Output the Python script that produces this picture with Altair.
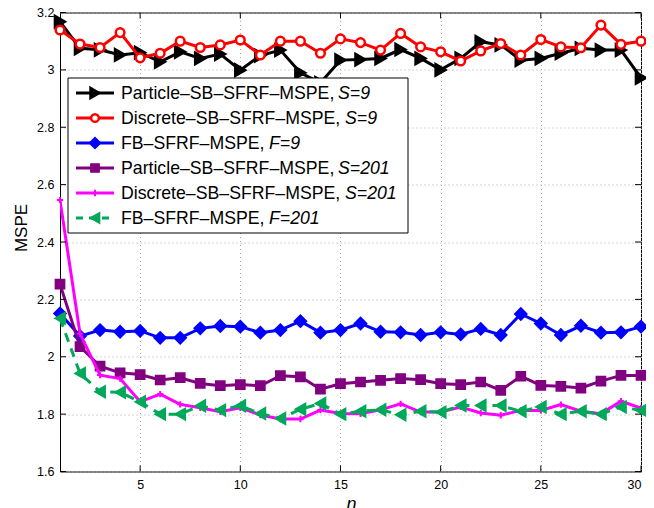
import altair as alt
import pandas as pd

# ---------------- data ----------------
n = list(range(1, 31))

particle_s9 = [3.168, 3.075, 3.070, 3.052, 3.060, 3.028, 3.063, 3.040, 3.055, 2.999,
               3.050, 3.069, 2.990, 2.955, 3.034, 3.036, 3.040, 3.071, 3.040, 3.000,
               3.040, 3.098, 3.087, 3.034, 3.040, 3.058, 3.075, 3.069, 3.069, 2.972]
discrete_s9 = [3.139, 3.090, 3.078, 3.130, 3.042, 3.058, 3.100, 3.078, 3.087, 3.104,
               3.052, 3.100, 3.100, 3.058, 3.108, 3.095, 3.069, 3.127, 3.080, 3.063,
               3.031, 3.066, 3.092, 3.052, 3.106, 3.080, 3.077, 3.156, 3.089, 3.100]
fb_f9 = [2.151, 2.072, 2.093, 2.087, 2.090, 2.066, 2.066, 2.099, 2.107, 2.105,
         2.084, 2.093, 2.124, 2.084, 2.093, 2.116, 2.087, 2.085, 2.076, 2.085,
         2.078, 2.097, 2.076, 2.149, 2.116, 2.076, 2.108, 2.084, 2.085, 2.105]
particle_s201 = [2.253, 2.035, 1.967, 1.944, 1.938, 1.919, 1.927, 1.907, 1.899, 1.903,
                 1.899, 1.934, 1.930, 1.887, 1.906, 1.912, 1.918, 1.924, 1.920, 1.906,
                 1.903, 1.912, 1.883, 1.932, 1.900, 1.897, 1.891, 1.915, 1.935, 1.935]
discrete_s201 = [2.546, 2.080, 1.936, 1.924, 1.843, 1.870, 1.834, 1.822, 1.808, 1.822,
                 1.797, 1.783, 1.783, 1.814, 1.802, 1.801, 1.815, 1.836, 1.807, 1.807,
                 1.825, 1.804, 1.796, 1.813, 1.813, 1.833, 1.810, 1.801, 1.845, 1.821]
fb_f201 = [2.134, 1.942, 1.878, 1.876, 1.843, 1.800, 1.800, 1.829, 1.814, 1.829,
           1.802, 1.785, 1.817, 1.837, 1.800, 1.810, 1.815, 1.798, 1.810, 1.807,
           1.830, 1.830, 1.830, 1.810, 1.825, 1.800, 1.810, 1.800, 1.825, 1.813]

label_main = ["Particle\u2013SB\u2013SFRF\u2013MSPE, ", "Discrete\u2013SB\u2013SFRF\u2013MSPE, ",
              "FB\u2013SFRF\u2013MSPE, ", "Particle\u2013SB\u2013SFRF\u2013MSPE, ",
              "Discrete\u2013SB\u2013SFRF\u2013MSPE, ", "FB\u2013SFRF\u2013MSPE, "]
label_ital = ["S=9", "S=9", "F=9", "S=201", "S=201", "F=201"]

x_ticks = [5, 10, 15, 20, 25, 30]
y_ticks = [1.6, 1.8, 2.0, 2.2, 2.4, 2.6, 2.8, 3.0, 3.2]

series_values = [particle_s9, discrete_s9, fb_f9, particle_s201, discrete_s201, fb_f201]

# ---------------- styles ----------------
W, H = 581, 459
FONT = "Liberation Sans"
styles = [
    dict(color="#000000", shape="triangle-right", size=150, fill="#000000", dash=None, sw=2),
    dict(color="#ff0000", shape="circle", size=75, fill="#ffffff", dash=None, sw=2.5),
    dict(color="#0000ff", shape="diamond", size=150, fill="#0000ff", dash=None, sw=1.5),
    dict(color="#800080", shape="square", size=85, fill="#800080", dash=None, sw=1.5),
    dict(color="#ff00ff", shape="M-1,0L1,0M0,-1L0,1", size=40, fill=None, dash=None, sw=2),
    dict(color="#00a85a", shape="triangle-left", size=140, fill="#00a85a", dash=[9, 7], sw=1.5),
]
ital_x = [278, 285, 209, 278, 285, 209]

x_scale = alt.Scale(domain=[1, 30], nice=False, zero=False)
y_scale = alt.Scale(domain=[1.6, 3.2], nice=False, zero=False)
x_axis = alt.Axis(values=x_ticks, title="n", grid=True, ticks=False, domain=False,
                  labelFontSize=12.5, labelPadding=7, labelFont=FONT, labelColor="#000",
                  titleFont=FONT, titleFontSize=18, titleFontStyle="italic", titleFontWeight="normal",
                  titleX=291, titleY=38, titleBaseline="alphabetic", titleColor="#000")
y_axis = alt.Axis(values=y_ticks, title="MSPE", grid=True, ticks=False, domain=False,
                  labelExpr="format(datum.value, '.1~f')",
                  labelFontSize=12.5, labelPadding=6, labelFont=FONT, labelColor="#000",
                  titleFont=FONT, titleFontSize=17, titleFontWeight="normal",
                  titleX=-38.5, titleY=215, titleAngle=270, titleAlign="center",
                  titleBaseline="middle", titleColor="#000")

layers = []
for vals, st in zip(series_values, styles):
    df = pd.DataFrame({"n": n, "value": vals})
    base = alt.Chart(df).encode(
        x=alt.X("n:Q", scale=x_scale, axis=x_axis),
        y=alt.Y("value:Q", scale=y_scale, axis=y_axis),
    )
    line_kw = dict(color=st["color"], strokeWidth=3, clip=True)
    if st["dash"]:
        line_kw["strokeDash"] = st["dash"]
    layers.append(base.mark_line(**line_kw))
    if st["fill"]:
        pt = base.mark_point(shape=st["shape"], size=st["size"], filled=True, fill=st["fill"],
                             stroke=st["color"], strokeWidth=st["sw"], opacity=1)
    else:
        pt = base.mark_point(shape=st["shape"], size=st["size"], filled=False,
                             stroke=st["color"], strokeWidth=st["sw"], opacity=1)
    layers.append(pt)

# inward tick marks (box style)
xt = pd.DataFrame({"n": x_ticks})
yt = pd.DataFrame({"value": y_ticks})
tick_style = dict(color="#000", strokeWidth=1)
xenc = alt.X("n:Q", scale=x_scale, axis=x_axis)
yenc = alt.Y("value:Q", scale=y_scale, axis=y_axis)
layers.append(alt.Chart(xt).mark_rule(**tick_style).encode(x=xenc, y=alt.value(H), y2=alt.value(H - 6)))
layers.append(alt.Chart(xt).mark_rule(**tick_style).encode(x=xenc, y=alt.value(0), y2=alt.value(6)))
layers.append(alt.Chart(yt).mark_rule(**tick_style).encode(y=yenc, x=alt.value(0), x2=alt.value(6)))
layers.append(alt.Chart(yt).mark_rule(**tick_style).encode(y=yenc, x=alt.value(W), x2=alt.value(W - 6)))

# legend
one = pd.DataFrame({"a": [0]})
layers.append(alt.Chart(one).mark_rect(fill="white", stroke="black", strokeWidth=1).encode(
    x=alt.value(8), x2=alt.value(348), y=alt.value(65.5), y2=alt.value(220.5)))
for i, st in enumerate(styles):
    ry = 80.5 + 25 * i
    rk = dict(color=st["color"], strokeWidth=3)
    if st["dash"]:
        rk["strokeDash"] = [7, 6]
    layers.append(alt.Chart(one).mark_rule(**rk).encode(
        x=alt.value(16), x2=alt.value(54), y=alt.value(ry)))
    if st["fill"]:
        pt = alt.Chart(one).mark_point(shape=st["shape"], size=st["size"] * 0.8, filled=True,
                                       fill=st["fill"], stroke=st["color"], strokeWidth=st["sw"], opacity=1)
    else:
        pt = alt.Chart(one).mark_point(shape=st["shape"], size=st["size"], filled=False,
                                       stroke=st["color"], strokeWidth=st["sw"], opacity=1)
    layers.append(pt.encode(x=alt.value(35), y=alt.value(ry)))
    layers.append(alt.Chart(one).mark_text(align="left", baseline="middle", font=FONT,
                                           fontSize=17.7, color="#000").encode(
        x=alt.value(61), y=alt.value(ry + 1), text=alt.value(label_main[i])))
    layers.append(alt.Chart(one).mark_text(align="left", baseline="middle", font=FONT,
                                           fontSize=17.7, fontStyle="italic", color="#000").encode(
        x=alt.value(ital_x[i]), y=alt.value(ry + 1), text=alt.value(label_ital[i])))

chart = alt.layer(*layers).properties(
    width=W, height=H,
    autosize=alt.AutoSizeParams(type="none"),
    padding={"left": 52, "top": 4.5, "right": 5, "bottom": 50},
).configure_view(stroke="black", strokeWidth=1).configure_axis(
    gridColor="#a8a8a8", gridDash=[1, 3], gridWidth=1, gridOpacity=1
)

chart.save("out.html", embed_options={"renderer": "svg", "actions": False})
